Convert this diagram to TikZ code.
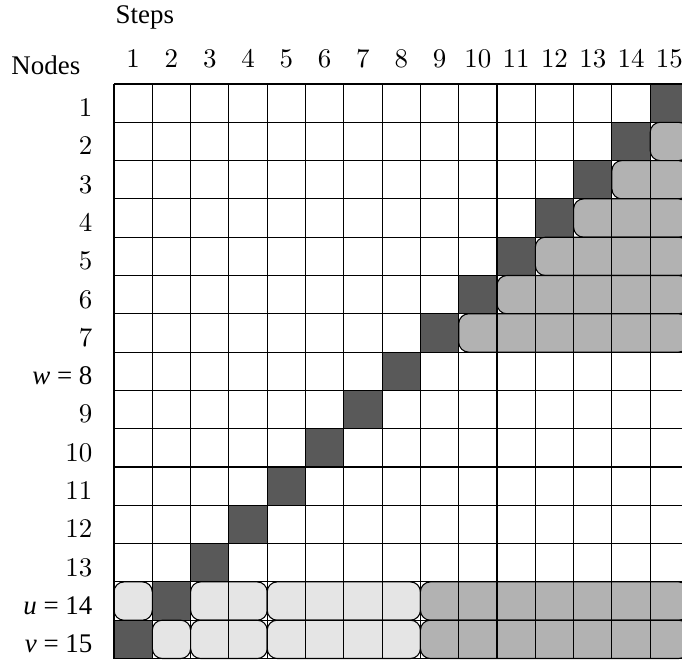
\documentclass[tikz,border=0pt]{standalone}
\usepackage[no-math]{fontspec}
\newfontfamily\tms{Liberation Serif}
\begin{document}
\begin{tikzpicture}[x=0.5cm, y=-0.5cm, font=\normalsize]
	\tikzset{
		cdark/.style={fill=black!65},
		cmid/.style={draw=black, fill=black!30, rounded corners=1.3mm},
		clight/.style={draw=black, fill=black!10, rounded corners=1.3mm}
	}
	\useasboundingbox (-2.977,-2.193) rectangle (14.83,15.04);
	% dark cells
	\foreach \r in {1,...,13} {
		\pgfmathtruncatemacro{\c}{16-\r}
		\fill[cdark] (\c-1,\r-1) rectangle (\c,\r);
	}
	\fill[cdark] (1,13) rectangle (2,14);
	\fill[cdark] (0,14) rectangle (1,15);
	% upper right block
	\foreach \r in {2,...,7} {
		\draw[cmid] (16-\r,\r-1) rectangle (15,\r);
	}
	% rows u and v
	\draw[clight] (0,13) rectangle (1,14);
	\draw[clight] (2,13) rectangle (4,14);
	\draw[clight] (4,13) rectangle (8,14);
	\draw[cmid] (8,13) rectangle (15,14);
	\draw[clight] (1,14) rectangle (2,15);
	\draw[clight] (2,14) rectangle (4,15);
	\draw[clight] (4,14) rectangle (8,15);
	\draw[cmid] (8,14) rectangle (15,15);
	% grid
	\foreach \i in {0,...,15} {
		\draw (\i,0) -- (\i,15);
		\draw (0,\i) -- (15,\i);
	}
	% labels
	\node[anchor=base west, inner sep=0pt] (steps) at (0.03,-1.57) {\tms Steps};
	\node[anchor=base, inner sep=0pt] (nodes) at (-1.78,-0.235) {\tms Nodes};
	\foreach \c in {1,...,15} {
		\node[anchor=base, inner sep=0pt] (s\c) at (\c-0.5,-0.42) {$\c$};
	}
	\foreach \r in {1,...,7,9,10,11,12,13} {
		\node[anchor=base east, inner sep=0pt] (n\r) at (-0.55,\r-0.15) {$\r$};
	}
	\node[anchor=base east, inner sep=0pt] (w) at (-0.55,7.85) {\tms\textit{w} = 8};
	\node[anchor=base east, inner sep=0pt] (u) at (-0.55,13.85) {\tms\textit{u} = 14};
	\node[anchor=base east, inner sep=0pt] (v) at (-0.55,14.85) {\tms\textit{v} = 15};
\end{tikzpicture}
\end{document}
